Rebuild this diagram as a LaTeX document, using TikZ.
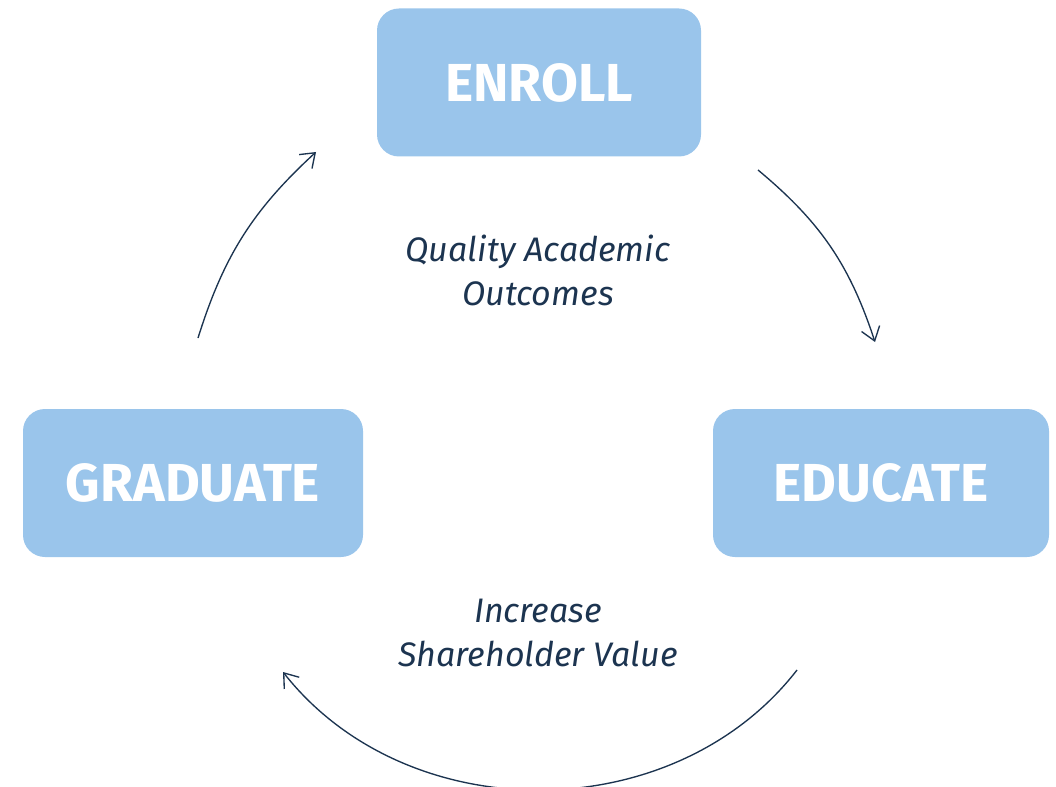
\documentclass[tikz,border=0pt]{standalone}
\usepackage{fontspec}
\setmainfont{Fira Sans}
\usetikzlibrary{arrows.meta}
\definecolor{boxblue}{HTML}{9AC5EB}
\definecolor{navy}{HTML}{1C3450}
\begin{document}
\begin{tikzpicture}[x=1pt,y=-1pt,
  stage/.style={fill=boxblue, draw=none, rounded corners=22pt,
    text=white, font=\fontsize{53.5}{53.5}\selectfont\bfseries,
    minimum height=148pt, inner sep=0pt},
  caption/.style={text=navy, align=center,
    font=\fontsize{34}{44}\selectfont\itshape},
  flow/.style={draw=navy, line width=1.35pt,
    -{Straight Barb[length=13pt,width=19pt,line width=1.35pt]}}]
\useasboundingbox (0,0) rectangle (1056,786);

% the three stages of the cycle
\node[stage, minimum width=324pt] (enroll)   at (539,82.5) {ENROLL};
\node[stage, minimum width=336pt] (educate)  at (881,483)  {EDUCATE};
\node[stage, minimum width=340pt] (graduate) at (193,483)  {GRADUATE};

% captions inside the cycle
\node[caption] (quality) at (538,270) {Quality Academic\\Outcomes};
\node[caption] (value)   at (538,633) {Increase\\Shareholder Value};

% end points of the connecting arcs
\coordinate (a1) at (758,170);
\coordinate (a2) at (875,342);
\coordinate (b1) at (797,670);
\coordinate (b2) at (283,672);
\coordinate (c1) at (198,338);
\coordinate (c2) at (316,152);

\draw[flow] (a1) to[bend left=16] (a2);
\draw[flow] (b1) to[bend left=52] (b2);
\draw[flow] (c1) to[bend left=15] (c2);
\end{tikzpicture}
\end{document}
